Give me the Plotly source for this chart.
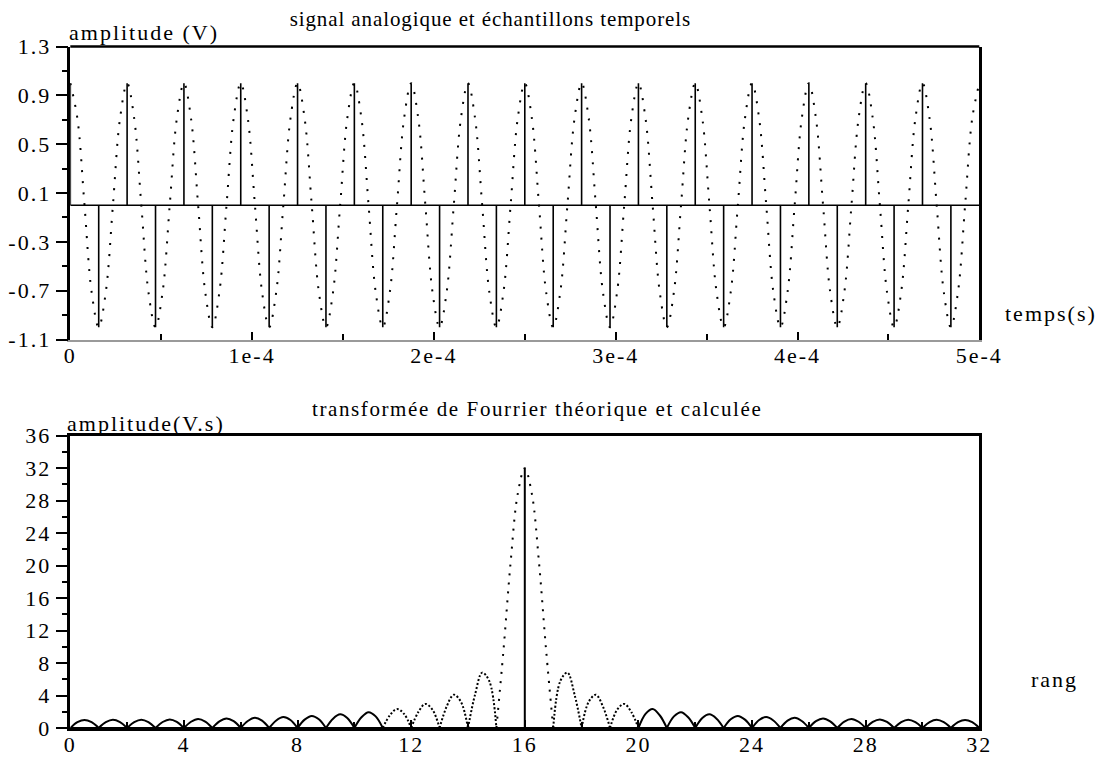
import plotly.graph_objects as go

W, H = 1101, 760

# ---------------- data ----------------
# analog signal: one period read at eighth-period steps, 16 identical periods over 5e-4 s
period_shape = [1.0, 0.71, 0.0, -0.71, -1.0, -0.71, 0.0, 0.71]
n_periods = 16
signal_step = 3.90625e-6                     # one eighth of a period (s)
signal_v = period_shape * n_periods + [1.0]
signal_t = [i * signal_step for i in range(len(signal_v))]

# time samples (stems)
sample_step = 1.5625e-5
sample_v = [1, -1, 1, -1, 1, -1, 1, -1, 1, -1, 1, -1, 1, -1, 1, -1,
            1, -1, 1, -1, 1, -1, 1, -1, 1, -1, 1, -1, 1, -1, 1, -1]
sample_t = [k * sample_step for k in range(len(sample_v))]

# theoretical Fourier transform, read at quarter-rang steps from 0 to 32
tf_v = [
    0, .71, 1.00, .71,   0, .71, 1.01, .72,   0, .72, 1.03, .73,   0, .74, 1.06, .76,
    0, .77, 1.11, .79,   0, .81, 1.17, .84,   0, .86, 1.25, .90,   0, .93, 1.35, .98,
    0, 1.03, 1.49, 1.08, 0, 1.15, 1.68, 1.23, 0, 1.32, 1.95, 1.43, 0, 1.57, 2.34, 1.74,
    0, 1.96, 2.97, 2.25, 0, 2.65, 4.10, 3.23, 0, 4.14, 6.82, 5.78, 0, 9.61, 20.38, 28.81,
    32, 28.81, 20.38, 9.61, 0, 5.78, 6.82, 4.14, 0, 3.23, 4.10, 2.65, 0, 2.25, 2.97, 1.96,
    0, 1.74, 2.34, 1.57, 0, 1.43, 1.95, 1.32, 0, 1.23, 1.68, 1.15, 0, 1.08, 1.49, 1.03,
    0, .98, 1.35, .93,   0, .90, 1.25, .86,   0, .84, 1.17, .81,   0, .79, 1.11, .77,
    0, .76, 1.06, .74,   0, .73, 1.03, .72,   0, .72, 1.01, .71,   0, .71, 1.00, .71,
    0]
tf_rang = [i / 4 for i in range(len(tf_v))]

# computed DFT (stems)
fft_rang = list(range(32))
fft_mag = [0, 0, 0, 0, 0, 0, 0, 0, 0, 0, 0, 0, 0, 0, 0, 0,
           32, 0, 0, 0, 0, 0, 0, 0, 0, 0, 0, 0, 0, 0, 0, 0]

# ticks
top_xticks = [0, 1e-4, 2e-4, 3e-4, 4e-4, 5e-4]
top_xtext = ["0", "1e-4", "2e-4", "3e-4", "4e-4", "5e-4"]
top_xminor = [0.5e-4, 1.5e-4, 2.5e-4, 3.5e-4, 4.5e-4]
top_yticks = [1.3, 0.9, 0.5, 0.1, -0.3, -0.7, -1.1]
top_ytext = ["1.3", "0.9", "0.5", "0.1", "-0.3", "-0.7", "-1.1"]
top_yminor = [1.1, 0.7, 0.3, -0.1, -0.5, -0.9]
bot_xticks = [0, 4, 8, 12, 16, 20, 24, 28, 32]
bot_xminor = [2, 6, 10, 14, 18, 22, 26, 30]
bot_yticks = [0, 4, 8, 12, 16, 20, 24, 28, 32, 36]
bot_yminor = [2, 6, 10, 14, 18, 22, 26, 30, 34]

# ---------------- figure ----------------
FONT = "Liberation Serif"
fig = go.Figure()

# top: analog signal (dotted)
fig.add_trace(go.Scatter(x=signal_t, y=signal_v, mode="lines",
                         line=dict(color="black", width=2, dash="2px,9px", shape="spline"),
                         xaxis="x", yaxis="y", hoverinfo="skip"))
# top: baseline + stems
sx, sy = [0, 5e-4, None], [0, 0, None]
for t, v in zip(sample_t, sample_v):
    sx += [t, t, None]
    sy += [0, v, None]
fig.add_trace(go.Scatter(x=sx, y=sy, mode="lines", line=dict(color="black", width=1.6),
                         xaxis="x", yaxis="y", hoverinfo="skip"))

# bottom: theoretical TF, split into arches
def arch_segments(lo, hi):
    xs, ys = [], []
    i = 0
    n = len(tf_v)
    while i < n - 1:
        start = tf_rang[i]
        end = 17 if start == 15 else start + 1
        if lo <= start < hi:
            for j in range(i, n):
                if tf_rang[j] > end:
                    break
                xs.append(tf_rang[j]); ys.append(tf_v[j])
            xs.append(None); ys.append(None)
        i += 8 if start == 15 else 4
    return xs, ys

xs, ys = arch_segments(0, 11)
x2, y2 = arch_segments(20, 32)
fig.add_trace(go.Scatter(x=xs + x2, y=ys + y2, mode="lines",
                         line=dict(color="black", width=2, shape="spline"),
                         xaxis="x2", yaxis="y2", hoverinfo="skip"))
xs, ys = arch_segments(11, 15)
x2, y2 = arch_segments(17, 20)
fig.add_trace(go.Scatter(x=xs + x2, y=ys + y2, mode="lines",
                         line=dict(color="black", width=2, dash="2px,2px", shape="spline"),
                         xaxis="x2", yaxis="y2", hoverinfo="skip"))
xs, ys = arch_segments(15, 16)
fig.add_trace(go.Scatter(x=xs, y=ys, mode="lines",
                         line=dict(color="black", width=2, dash="2px,7px", shape="spline"),
                         xaxis="x2", yaxis="y2", hoverinfo="skip"))
# bottom: stems
fx, fy = [0, 32, None], [0, 0, None]
for r, m in zip(fft_rang, fft_mag):
    fx += [r, r, None]
    fy += [0, m, None]
fig.add_trace(go.Scatter(x=fx, y=fy, mode="lines", line=dict(color="black", width=2),
                         xaxis="x2", yaxis="y2", hoverinfo="skip"))

x0, x1 = 70.3 / W, 979.3 / W
top_dom = [1 - 339.5 / H, 1 - 46.5 / H]
bot_dom = [1 - 728 / H, 1 - 435.7 / H]
tickfont = dict(family=FONT, size=22, color="black")

def minor(vals, side):
    return dict(tickvals=vals, ticks=side, ticklen=6, tickwidth=2, tickcolor="black")

common = dict(automargin=False, tickmode="array",
              tickwidth=2, tickcolor="black", showgrid=False, zeroline=False,
              showline=True, tickfont=tickfont)

fig.update_layout(
    width=W, height=H, margin=dict(l=0, r=0, t=0, b=0, pad=0), autosize=False,
    paper_bgcolor="white", plot_bgcolor="white", showlegend=False,
    font=dict(family=FONT, color="black"),
    xaxis=dict(domain=[x0, x1], anchor="y", range=[0, 5e-4], ticks="inside",
               tickvals=top_xticks, ticktext=top_xtext, ticklen=8,
               ticklabelstandoff=-5,
               linecolor="#9a9a9a", linewidth=1.5, minor=minor(top_xminor, "inside"),
               **common),
    yaxis=dict(domain=top_dom, anchor="x", range=[-1.1, 1.3], ticks="outside",
               tickvals=top_yticks, ticktext=top_ytext, ticklen=12,
               linecolor="black", linewidth=2.5, mirror=True,
               minor=minor(top_yminor, "outside"), **common),
    xaxis2=dict(domain=[x0, x1], anchor="y2", range=[0, 32], ticks="inside",
                tickvals=bot_xticks, ticktext=[str(v) for v in bot_xticks], ticklen=8,
                ticklabelstandoff=-5,
                linecolor="black", linewidth=3, mirror=True,
                minor=minor(bot_xminor, "inside"), **common),
    yaxis2=dict(domain=bot_dom, anchor="x2", range=[0, 36], ticks="outside",
                tickvals=bot_yticks, ticktext=[str(v) for v in bot_yticks], ticklen=12,
                linecolor="black", linewidth=2.5, mirror=True,
                minor=minor(bot_yminor, "outside"), **common),
    shapes=[dict(type="line", xref="paper", yref="paper", x0=x0, x1=x1,
                 y0=top_dom[1], y1=top_dom[1], line=dict(color="black", width=2.5))],
)

def label(text, px, py, size=22):
    fig.add_annotation(text=text, x=px / W, y=1 - py / H, xref="paper", yref="paper",
                       xanchor="center", yanchor="middle", showarrow=False,
                       font=dict(family=FONT, size=size, color="black"))

label("signal analogique et échantillons temporels", 490, 19, size=21)
label("amplitude (V)", 144, 33)
label("temps(s)", 1051, 313)
label("transformée de Fourrier théorique et calculée", 537, 409, size=21)
label("amplitude(V.s)", 146, 424)
label("rang", 1054, 679)

# Scilab-like wide letter spacing on the texts
post = ("document.querySelectorAll('.main-svg text').forEach(function(t){"
        "var n=t.textContent.length; var s='2px';"
        "if(n==43){s='0.9px';} else if(n==45){s='1.6px';}"
        "t.style.letterSpacing=s;});")
fig.write_html("out.html", post_script=post)
